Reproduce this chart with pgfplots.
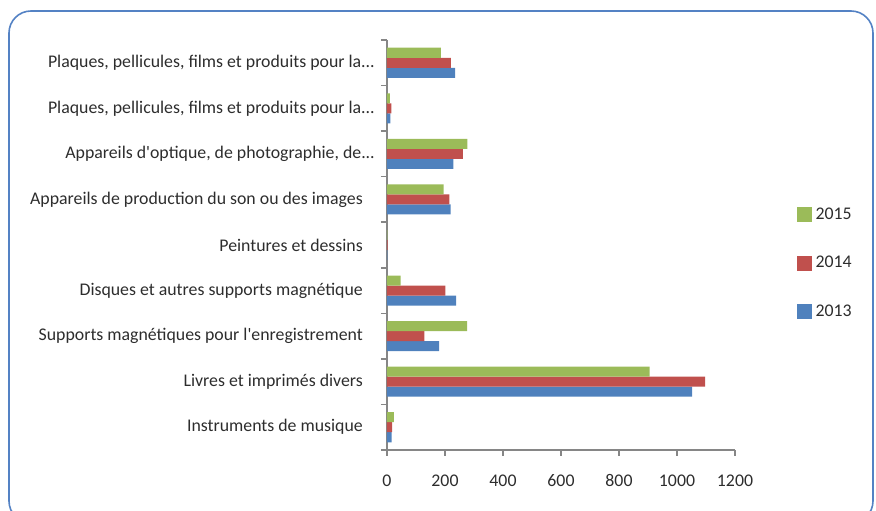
\documentclass[border=0pt]{standalone}
\usepackage{pgfplots}
\pgfplotsset{compat=1.18}
\usepackage{fontspec}
\setmainfont{Carlito}
\definecolor{c13}{RGB}{79,129,189}
\definecolor{c14}{RGB}{192,80,77}
\definecolor{c15}{RGB}{155,187,89}
\definecolor{axgray}{RGB}{134,134,134}
\definecolor{frameblue}{RGB}{84,130,196}
\definecolor{txt}{RGB}{45,45,45}
\newcommand{\pad}{\hspace*{12pt}}
\newcommand{\dd}{.\kern0pt.\kern0pt.}
\begin{document}
\begin{tikzpicture}
\path[use as bounding box] (0pt,0pt) rectangle (876pt,511pt);
\draw[frameblue, line width=1.6pt, rounded corners=22pt] (9pt,-12pt) rectangle (873pt,500pt);
\begin{axis}[
  at={(387pt,61pt)}, anchor=south west,
  scale only axis, width=348pt, height=410pt,
  xbar, bar width=0.22,
  xmin=0, xmax=1200, ymin=-0.5, ymax=8.5,
  xtick={0,200,400,600,800,1000,1200},
  ytick={0,1,2,3,4,5,6,7,8},
  yticklabels={
    Instruments de musique\pad,
    Livres et imprimés divers\pad,
    Supports magnétiques pour l\textquotesingle enregistrement\pad,
    Disques et autres supports magnétique\pad,
    Peintures et dessins\pad,
    Appareils de production du son ou des images\pad,
    {Appareils d\textquotesingle optique, de photographie, de\dd},
    {Plaques, pellicules, films et produits pour la\dd},
    {Plaques, pellicules, films et produits pour la\dd}},
  minor ytick={-0.5,0.5,1.5,2.5,3.5,4.5,5.5,6.5,7.5,8.5},
  axis x line*=bottom, axis y line*=left,
  axis line style={axgray, line width=1.5pt},
  tick align=outside,
  major tick length=6pt, minor tick length=6pt,
  major y tick style={draw=none},
  minor y tick style={axgray, line width=1.5pt},
  major x tick style={axgray, line width=1.5pt},
  tick label style={font=\fontsize{17.8}{20}\selectfont, text=txt},
  /pgf/number format/assume math mode=true,
  /pgf/number format/1000 sep={},
  x tick label style={yshift=-15pt},
  y tick label style={anchor=east, inner sep=0pt, xshift=-6pt},
  legend style={at={(1.178,0.600)}, anchor=north west, draw=none, fill=none,
    font=\fontsize{17.8}{20}\selectfont, text=txt, inner sep=0pt, row sep=28.5pt,
    nodes={inner sep=3.5pt}},
  legend cell align=left,
  reverse legend,
  legend image code/.code={\fill[#1] (0pt,-8pt) rectangle (15pt,7pt);},
]
\addplot[fill=c13, draw=none, bar shift=-0.22] coordinates {
  (16,0) (1052,1) (180,2) (238,3) (1,4) (219,5) (229,6) (12,7) (235,8)};
\addlegendentry{2013}
\addplot[fill=c14, draw=none, bar shift=0] coordinates {
  (18,0) (1097,1) (129,2) (201,3) (2,4) (215,5) (262,6) (15,7) (220,8)};
\addlegendentry{2014}
\addplot[fill=c15, draw=none, bar shift=0.22] coordinates {
  (24,0) (906,1) (276,2) (47,3) (1,4) (195,5) (277,6) (10,7) (186,8)};
\addlegendentry{2015}
\end{axis}
\end{tikzpicture}
\end{document}
